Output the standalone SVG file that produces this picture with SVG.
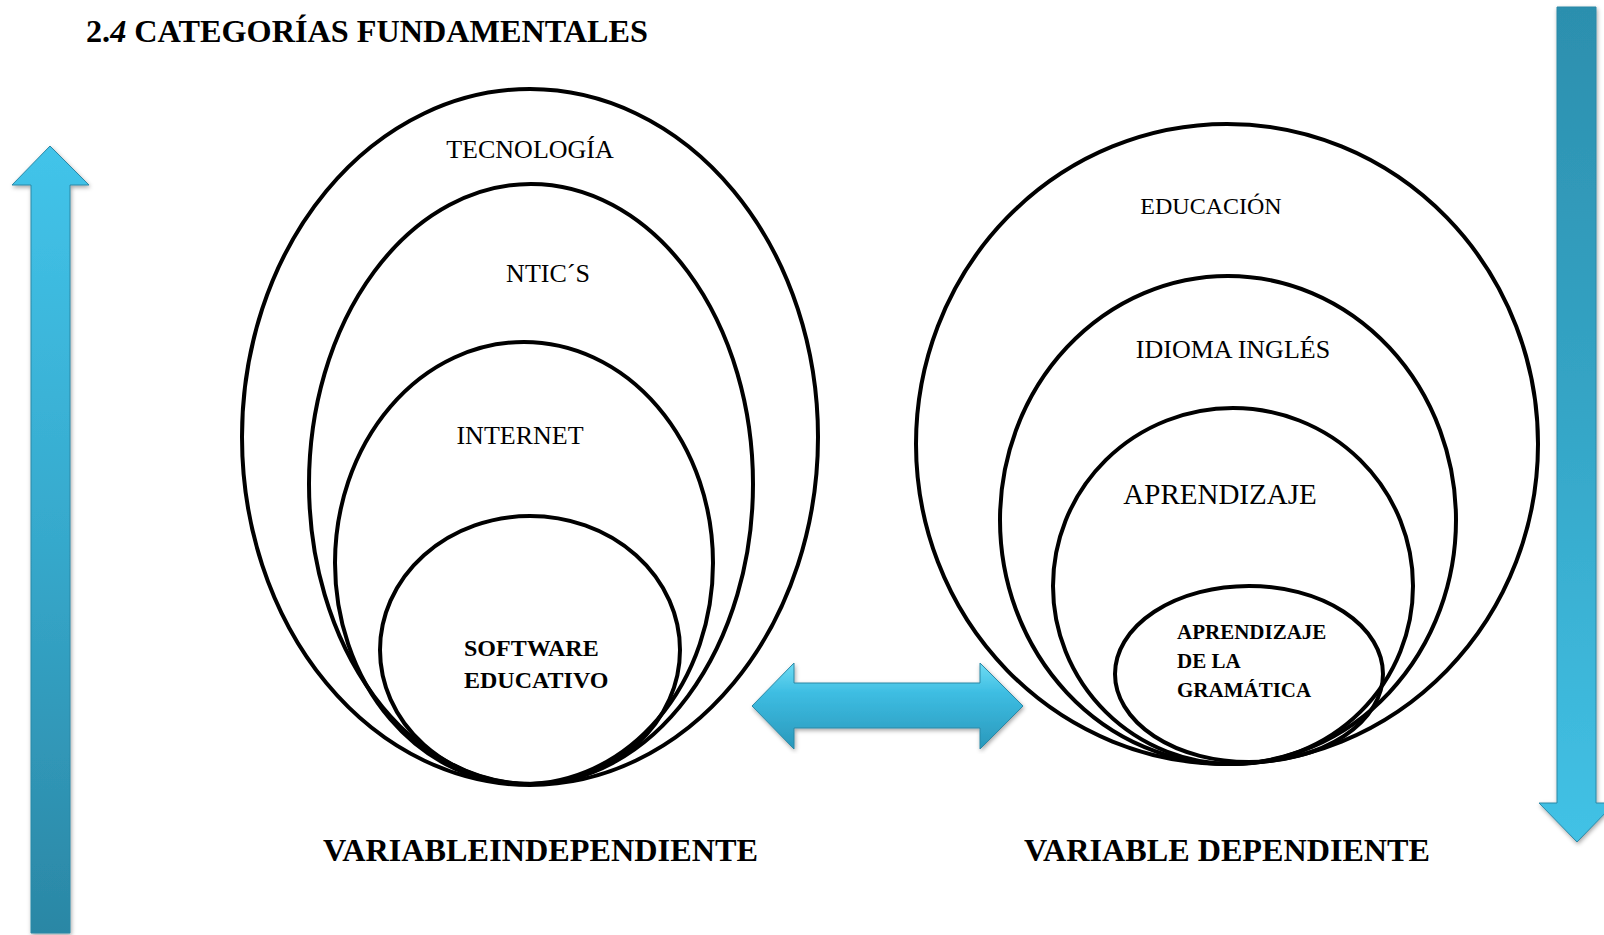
<svg xmlns="http://www.w3.org/2000/svg" width="1604" height="935" viewBox="0 0 1604 935">
<defs>
<linearGradient id="gUp" x1="0" y1="0" x2="0" y2="1">
<stop offset="0" stop-color="#42c4ea"/>
<stop offset="0.5" stop-color="#36a9cc"/>
<stop offset="1" stop-color="#2b87a5"/>
</linearGradient>
<linearGradient id="gDown" x1="0" y1="0" x2="0" y2="1">
<stop offset="0" stop-color="#2c8fae"/>
<stop offset="0.5" stop-color="#35a6c7"/>
<stop offset="1" stop-color="#42c2e6"/>
</linearGradient>
<linearGradient id="gH" x1="0" y1="0" x2="0" y2="1">
<stop offset="0" stop-color="#6fdcf4"/>
<stop offset="0.35" stop-color="#3dbde2"/>
<stop offset="1" stop-color="#2a98bb"/>
</linearGradient>
<filter id="sh" x="-20%" y="-5%" width="140%" height="110%">
<feDropShadow dx="1" dy="2" stdDeviation="2" flood-color="#000" flood-opacity="0.35"/>
</filter>
<style>
.ring{fill:none;stroke:#000;stroke-width:4}
.t{font-family:"Liberation Serif","Times New Roman",serif;fill:#000}
.b{font-weight:bold}
.arrow{stroke:#2a88a6;stroke-width:1;filter:url(#sh)}
</style>
</defs>

<text class="t b" x="86" y="42" font-size="32" textLength="562" lengthAdjust="spacingAndGlyphs">2.<tspan font-style="italic">4</tspan> CATEGORÍAS FUNDAMENTALES</text>

<g id="arrow-up">
<polygon class="arrow" fill="url(#gUp)" points="50,146 89,185 70,185 70,933 31,933 31,185 12,185"/>
</g>
<g id="arrow-down">
<polygon class="arrow" fill="url(#gDown)" points="1557,7 1596,7 1596,803 1615,803 1577,842 1539,803 1557,803"/>
</g>
<g id="arrow-both">
<polygon class="arrow" fill="url(#gH)" points="752,706 794,663 794,683 980,683 980,663 1023,706 980,749 980,728 794,728 794,749"/>
</g>

<g id="tecnologia">
<ellipse class="ring" cx="530" cy="437" rx="288" ry="348"/>
<text class="t" x="530" y="158" font-size="26" text-anchor="middle">TECNOLOGÍA</text>
</g>
<g id="ntics">
<ellipse class="ring" cx="531" cy="484" rx="222" ry="300"/>
<text class="t" x="548" y="282" font-size="26" text-anchor="middle">NTIC´S</text>
</g>
<g id="internet">
<ellipse class="ring" cx="524" cy="563" rx="189" ry="221"/>
<text class="t" x="520" y="444" font-size="26" text-anchor="middle">INTERNET</text>
</g>
<g id="software">
<ellipse class="ring" cx="530" cy="650" rx="150" ry="134"/>
<text class="t b" x="464" y="656" font-size="24">SOFTWARE</text>
<text class="t b" x="464" y="688" font-size="24">EDUCATIVO</text>
</g>

<g id="educacion">
<ellipse class="ring" cx="1227" cy="444" rx="311" ry="320"/>
<text class="t" x="1211" y="214" font-size="24" text-anchor="middle">EDUCACIÓN</text>
</g>
<g id="idioma">
<ellipse class="ring" cx="1228" cy="520" rx="228" ry="244"/>
<text class="t" x="1233" y="358" font-size="26" text-anchor="middle">IDIOMA INGLÉS</text>
</g>
<g id="aprendizaje">
<ellipse class="ring" cx="1233" cy="586" rx="180" ry="178"/>
<text class="t" x="1220" y="504" font-size="29" text-anchor="middle">APRENDIZAJE</text>
</g>
<g id="gramatica">
<ellipse class="ring" cx="1249" cy="674" rx="134" ry="88"/>
<text class="t b" x="1177" y="639" font-size="21">APRENDIZAJE</text>
<text class="t b" x="1177" y="668" font-size="21">DE LA</text>
<text class="t b" x="1177" y="697" font-size="21">GRAMÁTICA</text>
</g>

<text class="t b" x="323" y="861" font-size="32" textLength="435" lengthAdjust="spacingAndGlyphs">VARIABLEINDEPENDIENTE</text>
<text class="t b" x="1024" y="861" font-size="32" textLength="406" lengthAdjust="spacingAndGlyphs">VARIABLE DEPENDIENTE</text>
</svg>
